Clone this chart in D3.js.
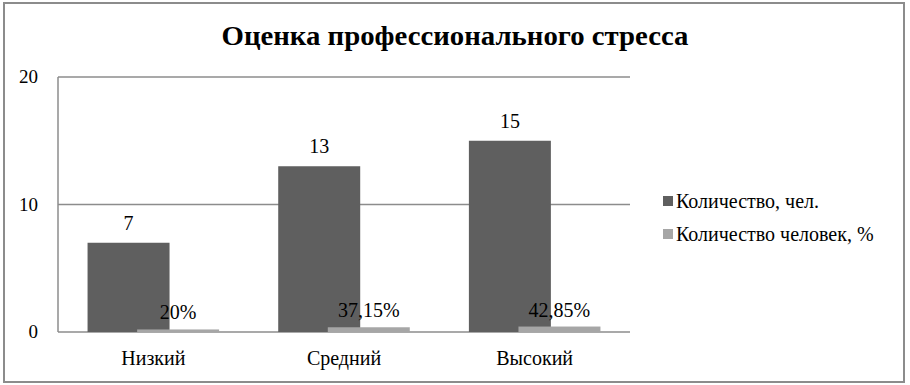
<!DOCTYPE html>
<html>
<head>
<meta charset="utf-8">
<script src="https://cdn.jsdelivr.net/npm/d3@7"></script>
<style>
    body { margin: 0; background: #fff; }
    svg text { font-family: Tinos, 'Liberation Serif', FreeSerif, 'Times New Roman', serif; fill: #000; }
</style>
</head>
<body>
<div id="chart"></div>
<script>
// data
const categories = ["Низкий", "Средний", "Высокий"];
const seriesNames = ["Количество, чел.", "Количество человек, %"];
const countValues = [7, 13, 15];
const percentValues = [0.2, 0.3715, 0.4285];
const percentLabels = ["20%", "37,15%", "42,85%"];
const yTicks = [0, 10, 20];
const colors = ["#5f5f5f", "#a6a6a6"];

const width = 910, height = 385;
const margin = {top: 77, left: 58, right: 280, bottom: 53};

const svg = d3.select("#chart")
    .append("svg")
    .attr("width", width)
    .attr("height", height);

// outer frame
svg.append("rect")
    .attr("x", 4).attr("y", 3)
    .attr("width", 900).attr("height", 379)
    .attr("fill", "#fff")
    .attr("stroke", "#8c8c8c")
    .attr("stroke-width", 2);

svg.append("text")
    .attr("x", 455)
    .attr("y", 45)
    .attr("text-anchor", "middle")
    .attr("textLength", 467)
    .attr("lengthAdjust", "spacingAndGlyphs")
    .style("font-size", "27px")
    .style("font-weight", "bold")
    .text("Оценка профессионального стресса");

const x = d3.scaleBand()
    .domain(categories)
    .range([margin.left, width - margin.right]);

const y = d3.scaleLinear()
    .domain([0, 20])
    .range([height - margin.bottom, margin.top]);

const bw = x.bandwidth();
const barW = bw * 0.43;
const shift = bw * 0.13;

// gridlines
svg.append("g")
    .selectAll("line")
    .data(yTicks)
    .join("line")
    .attr("x1", margin.left)
    .attr("x2", width - margin.right)
    .attr("y1", d => y(d))
    .attr("y2", d => y(d))
    .attr("stroke", "#8c8c8c")
    .attr("stroke-width", 1.5);

svg.append("line")
    .attr("x1", margin.left).attr("x2", margin.left)
    .attr("y1", y(20)).attr("y2", y(0))
    .attr("stroke", "#8c8c8c")
    .attr("stroke-width", 1.5);

svg.append("g")
    .selectAll("text")
    .data(yTicks)
    .join("text")
    .attr("x", 38)
    .attr("y", d => y(d) + 6)
    .attr("text-anchor", "end")
    .style("font-size", "19px")
    .text(d => d);

// dark bars (count)
svg.append("g")
    .selectAll("rect")
    .data(countValues)
    .join("rect")
    .attr("x", (d, i) => x(categories[i]) + bw / 2 - shift - barW / 2)
    .attr("y", d => y(d))
    .attr("width", barW)
    .attr("height", d => y(0) - y(d))
    .attr("fill", colors[0]);

// light bars (percent), drawn over the dark ones
svg.append("g")
    .selectAll("rect")
    .data(percentValues)
    .join("rect")
    .attr("x", (d, i) => x(categories[i]) + bw / 2 + shift - barW / 2)
    .attr("y", d => y(d))
    .attr("width", barW)
    .attr("height", d => y(0) - y(d))
    .attr("fill", colors[1]);

svg.append("g")
    .selectAll("text")
    .data(countValues)
    .join("text")
    .attr("x", (d, i) => x(categories[i]) + bw / 2 - shift)
    .attr("y", d => y(d) - 13)
    .attr("text-anchor", "middle")
    .style("font-size", "20px")
    .text(d => d);

svg.append("g")
    .selectAll("text")
    .data(percentValues)
    .join("text")
    .attr("x", (d, i) => x(categories[i]) + bw / 2 + shift)
    .attr("y", d => y(d) - 10)
    .attr("text-anchor", "middle")
    .style("font-size", "20px")
    .text((d, i) => percentLabels[i]);

// category labels
svg.append("g")
    .selectAll("text")
    .data(categories)
    .join("text")
    .attr("x", d => x(d) + bw / 2)
    .attr("y", 365)
    .attr("text-anchor", "middle")
    .style("font-size", "20px")
    .text(d => d);

// legend
const legend = svg.append("g")
    .selectAll("g")
    .data(seriesNames)
    .join("g")
    .attr("transform", (d, i) => "translate(663," + (196 + i * 33) + ")");

legend.append("rect")
    .attr("width", 10)
    .attr("height", 10)
    .attr("fill", (d, i) => colors[i]);

legend.append("text")
    .attr("x", 13)
    .attr("y", 12)
    .style("font-size", "20px")
    .text(d => d);
</script>
</body>
</html>
